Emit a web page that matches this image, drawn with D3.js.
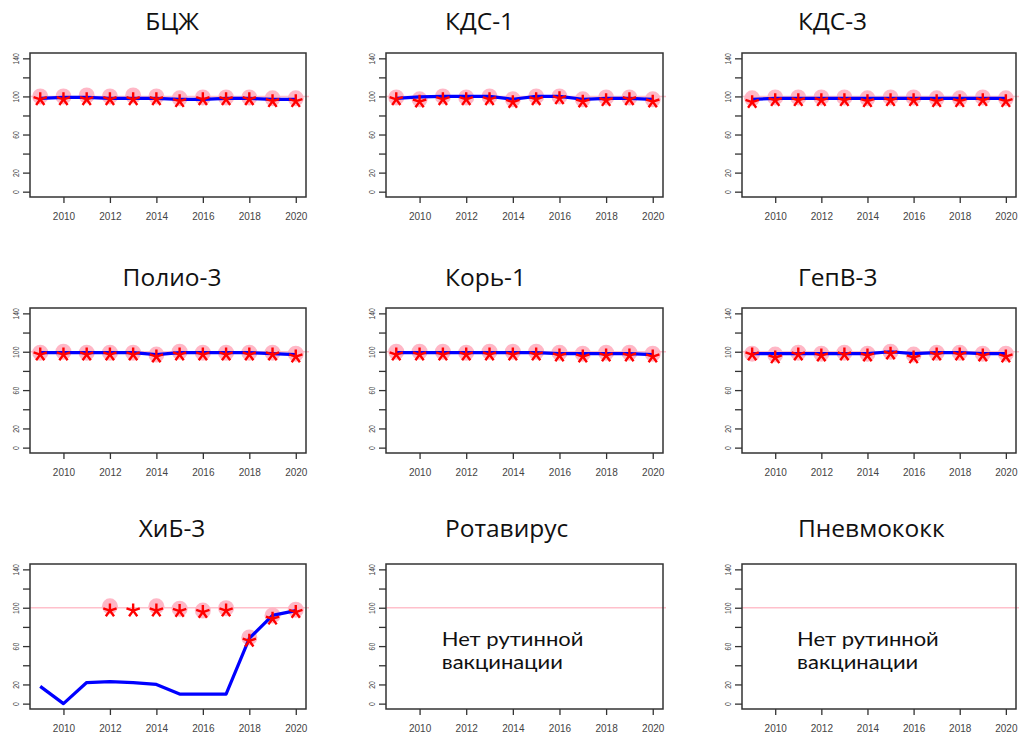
<!DOCTYPE html>
<html><head><meta charset="utf-8">
<script src="https://cdn.jsdelivr.net/npm/d3@7"></script>
<style>body{margin:0;background:#fff}svg{display:block}</style>
</head><body>
<svg id="c" width="1021" height="742"></svg>
<script>
// ---------- data ----------
const years = [2009,2010,2011,2012,2013,2014,2015,2016,2017,2018,2019,2020];
const xTicks = [2010,2012,2014,2016,2018,2020];
const yTicks = [0,20,40,60,80,100,120,140];
const yTickLabels = [0,20,60,100,140];
const titles = ["БЦЖ","КДС-1","КДС-3","Полио-3","Корь-1","ГепВ-3","ХиБ-3","Ротавирус","Пневмококк"];
const noteText = ["Нет рутинной","вакцинации"];

// pink circles (one series), red asterisks (second), blue line (third)
const bcgCircle = [100,100,101,100,101,100,98,99,99,99,98,98];
const bcgStar   = [97,97,97,97,97,97,95,97,97,97,95,95];
const bcgLine   = [98,99,99,98,98,98,97,97,98,98,97,97];

const dtp1Circle = [99,97,100,99,100,97,100,100,97,99,99,97];
const dtp1Star   = [97,94.5,97,97,97,94,97,98,94.5,96,97,94.5];
const dtp1Line   = [98,99.5,100,100,100,97,100,100,97,98,98,97];

const dtp3Circle = [98,99,99,99,99,98,99,99,98,98,99,98];
const dtp3Star   = [94,96,96,96,96,95,96,96,95,95,96,95];
const dtp3Line   = [97,98,98,98,98,98,98,98,98,98,98,98];

const polioCircle = [99,100,99,99,99,97,100,99,99,99,99,98];
const polioStar   = [97,97,97,97,97,95,97,97,97,97,97,95];
const polioLine   = [99,99,99,99,99,97,99,99,99,99,98,97];

const measlesCircle = [100,100,100,99,100,100,100,99,98,99,99,98];
const measlesStar   = [97,97,97,97,97,97,97,96,95,96,96,95];
const measlesLine   = [99,99,99,99,99,99,99,98,98,98,98,97];

const hepbCircle = [98,97,99,98,99,98,100,97,99,99,98,98];
const hepbStar   = [97,94,97,96,97,96,98,94,97,97,96,95];
const hepbLine   = [98,98,98,98,98,98,100,98,99,99,98,98];

const hibCircle = [null,null,null,101.5,null,101.5,99,97,99.5,69,92,98];
const hibStar   = [null,null,null,97,97,97,96.5,95.5,97,65.5,88.5,95.5];
const hibLine   = [18,0,22,23,22,20,10,10,10,68,92,97];

const series = [
  {c:bcgCircle, s:bcgStar, l:bcgLine},
  {c:dtp1Circle, s:dtp1Star, l:dtp1Line},
  {c:dtp3Circle, s:dtp3Star, l:dtp3Line},
  {c:polioCircle, s:polioStar, l:polioLine},
  {c:measlesCircle, s:measlesStar, l:measlesLine},
  {c:hepbCircle, s:hepbStar, l:hepbLine},
  {c:hibCircle, s:hibStar, l:hibLine},
  null, null
];

// ---------- layout ----------
const colL = [30,386,742], colR = [306,663,1016];
const rowT = [53,308,564], rowB = [197,453,709];
const titleY = [30,286,537];
const titleX = [{x:172,a:"middle"},{x:445,a:"start"},{x:798,a:"start"}];

const svg = d3.select("#c");
const star5 = (r)=>{ let p=""; for(let k=0;k<5;k++){const a=(-90+72*k)*Math.PI/180; p+=`M0,0L${(r*Math.cos(a)).toFixed(2)},${(r*Math.sin(a)).toFixed(2)}`;} return p; };

titles.forEach((t,i)=>{
  const ci=i%3, ri=Math.floor(i/3);
  const x = d3.scaleLinear().domain([2008.56,2020.44]).range([colL[ci],colR[ci]]);
  const y = d3.scaleLinear().domain([-5.6,145.6]).range([rowB[ri],rowT[ri]]);
  const g = svg.append("g");

  g.append("text").attr("x",titleX[ci].x).attr("y",titleY[ri]).attr("text-anchor",titleX[ci].a)
    .attr("font-family","Open Sans, sans-serif").attr("font-size",24.5).attr("fill","#111").text(t);

  // reference line at 100
  g.append("line").attr("x1",colL[ci]).attr("x2",colR[ci]+3).attr("y1",y(100)).attr("y2",y(100))
    .attr("stroke","#ffc0cb").attr("stroke-width",1.5);

  const d = series[i];
  if(d){
    const pts = (arr)=>years.map((yr,k)=>({yr,v:arr[k]})).filter(p=>p.v!=null);
    g.selectAll("circle.p").data(pts(d.c)).join("circle")
      .attr("cx",p=>x(p.yr)).attr("cy",p=>y(p.v)).attr("r",8)
      .attr("fill","#ffb3c3").attr("opacity",0.95);
    g.append("path").datum(pts(d.l))
      .attr("d",d3.line().x(p=>x(p.yr)).y(p=>y(p.v)))
      .attr("fill","none").attr("stroke","#0000ff").attr("stroke-width",3.2).attr("stroke-linejoin","round");
    g.selectAll("path.s").data(pts(d.s)).join("path").attr("class","s")
      .attr("transform",p=>`translate(${x(p.yr)},${y(p.v)})`)
      .attr("d",star5(7)).attr("stroke","#ff0000").attr("stroke-width",2.4).attr("stroke-linecap","butt").attr("fill","none");
  } else {
    noteText.forEach((line,k)=>{
      g.append("text").attr("transform",`translate(${x(2010.95)},${y(60)+k*23}) scale(1.1,1)`)
        .attr("font-family","Lato, sans-serif").attr("font-size",20).attr("fill","#111").text(line);
    });
  }

  // box
  g.append("rect").attr("x",colL[ci]).attr("y",rowT[ri]).attr("width",colR[ci]-colL[ci]).attr("height",rowB[ri]-rowT[ri])
    .attr("fill","none").attr("stroke","#333").attr("stroke-width",1.5);

  // x axis
  const xa = g.append("g").attr("transform",`translate(0,${rowB[ri]})`)
    .call(d3.axisBottom(x).tickValues(xTicks).tickSize(6).tickPadding(10).tickFormat(d3.format("d")));
  xa.select(".domain").remove();
  xa.selectAll("line").attr("stroke","#333").attr("stroke-width",1.3);
  xa.selectAll("text").attr("font-family","Liberation Sans, Arial, sans-serif").attr("font-size",10).attr("fill","#444");

  // y axis
  const ya = g.append("g").attr("transform",`translate(${colL[ci]},0)`)
    .call(d3.axisLeft(y).tickValues(yTicks).tickSize(7).tickFormat(v=>yTickLabels.includes(v)?String(v):""));
  ya.select(".domain").remove();
  ya.selectAll("line").attr("stroke","#333").attr("stroke-width",1.3);
  ya.selectAll("text").attr("x",null).attr("dy",null).attr("text-anchor","middle")
    .attr("transform","translate(-14,0) rotate(-90) scale(0.72,1)").attr("dy","0.35em")
    .attr("font-family","Liberation Sans, Arial, sans-serif").attr("font-size",9.5).attr("fill","#444");
});
</script>
</body></html>
